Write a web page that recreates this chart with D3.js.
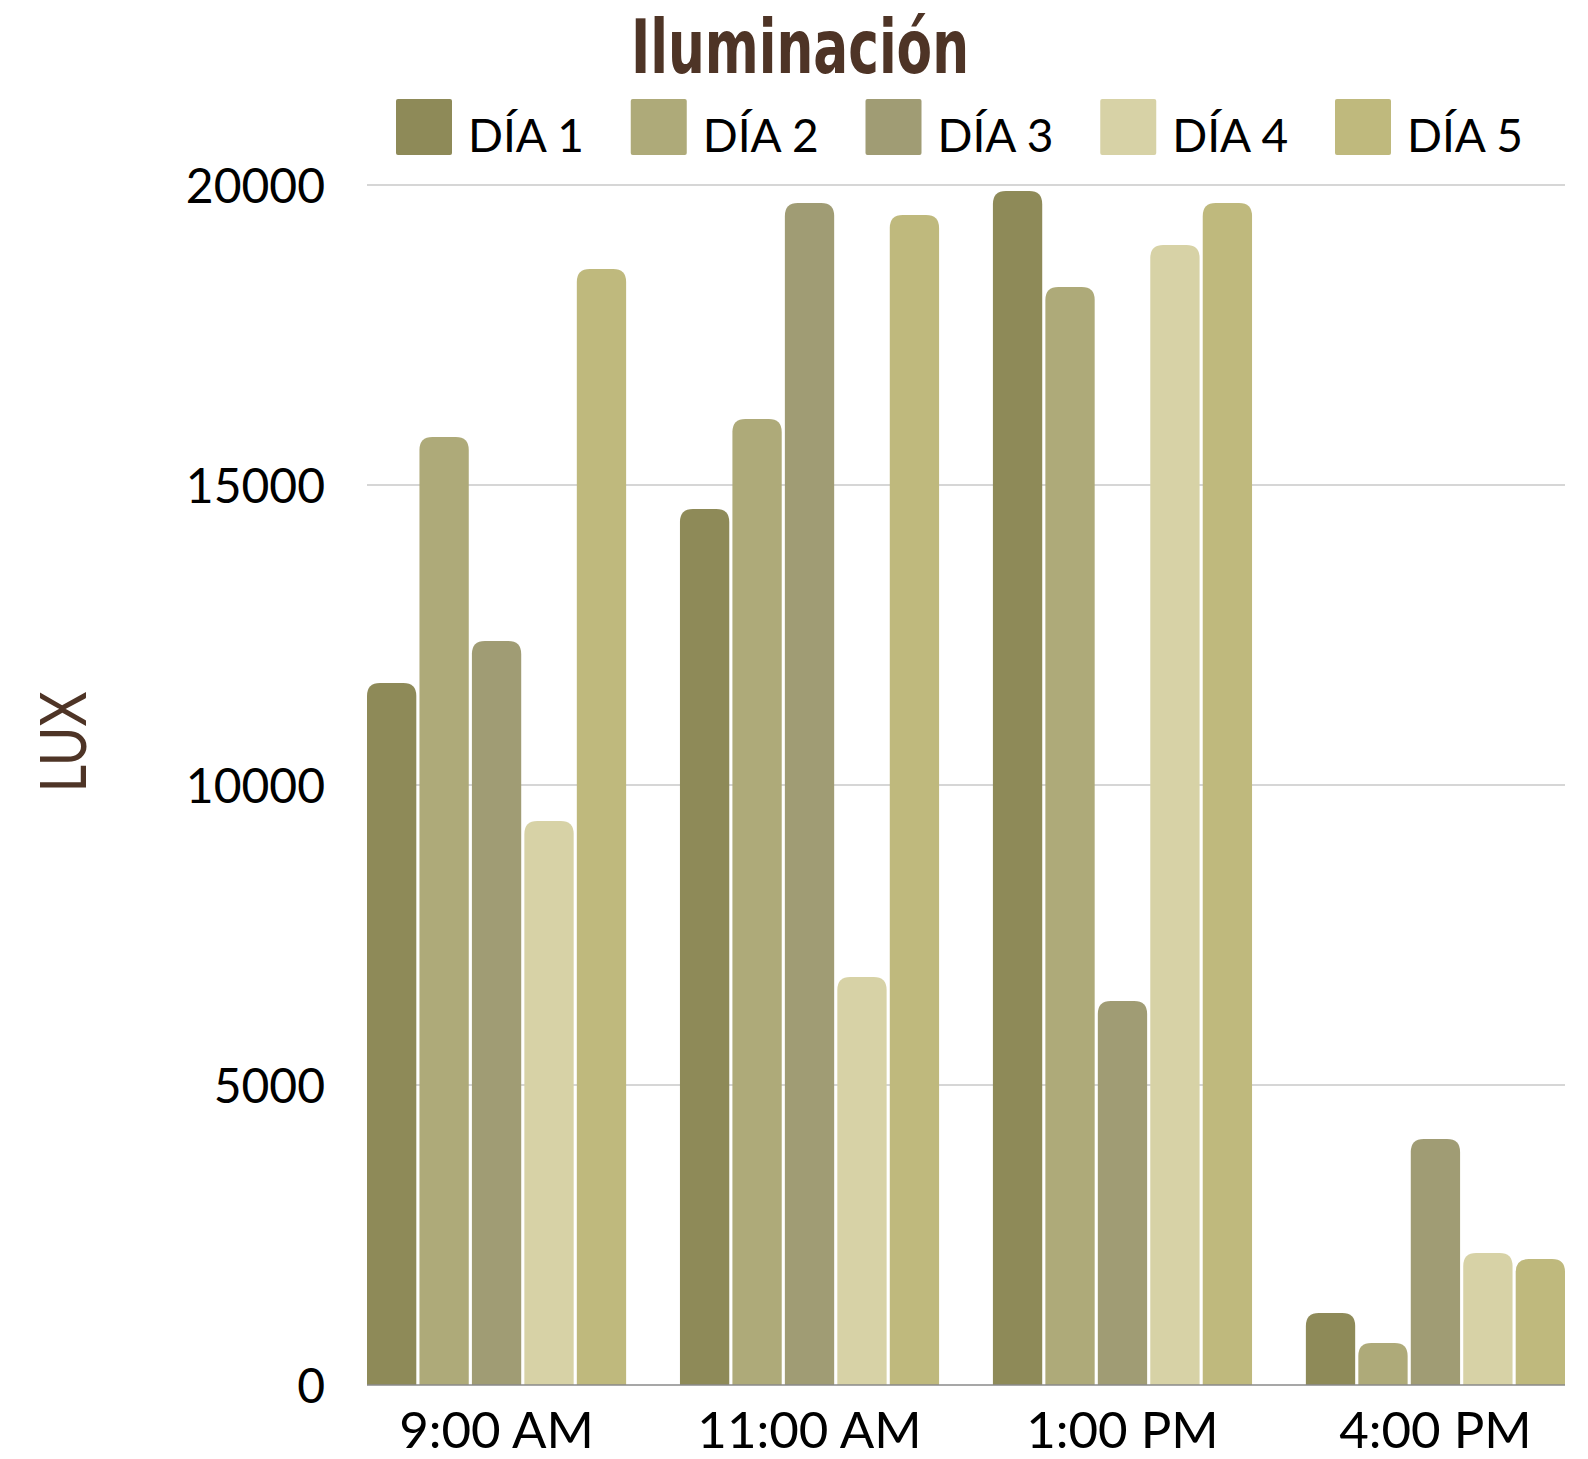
<!DOCTYPE html>
<html>
<head>
<meta charset="utf-8">
<script src="https://cdn.jsdelivr.net/npm/d3@7"></script>
<style>
  html, body { margin: 0; padding: 0; background: #fff; }
  svg { display: block; }
</style>
</head>
<body>
<div id="chart"></div>
<script>
// Datos del gráfico
const categories = ['9:00 AM', '11:00 AM', '1:00 PM', '4:00 PM'];
const seriesNames = ['DÍA 1', 'DÍA 2', 'DÍA 3', 'DÍA 4', 'DÍA 5'];
const dia1 = [11700, 14600, 19900, 1200];
const dia2 = [15800, 16100, 18300, 700];
const dia3 = [12400, 19700, 6400, 4100];
const dia4 = [9400, 6800, 19000, 2200];
const dia5 = [18600, 19500, 19700, 2100];
const seriesColors = ['#8e8a58', '#aeaa79', '#a09c74', '#d7d2a6', '#bfb97d'];
const yTicks = [0, 5000, 10000, 15000, 20000];

const allSeries = [dia1, dia2, dia3, dia4, dia5];

const width = 1588;
const height = 1459;
const margin = { top: 185, right: 23, bottom: 74, left: 367 };

const svg = d3.select('#chart')
    .append('svg')
    .attr('width', width)
    .attr('height', height);

const y = d3.scaleLinear()
    .domain([0, 20000])
    .range([height - margin.bottom, margin.top]);

const x0 = d3.scaleBand()
    .domain(categories)
    .range([margin.left, width - margin.right])
    .paddingInner(0.172)
    .paddingOuter(0);

const x1 = d3.scaleBand()
    .domain(seriesNames)
    .range([0, x0.bandwidth()])
    .paddingInner(0.06)
    .paddingOuter(0);

const fontMain = 'Lato, "Open Sans", sans-serif';

// Líneas de la cuadrícula
svg.append('g')
    .selectAll('line')
    .data(yTicks.filter(d => d > 0))
    .enter()
    .append('line')
    .attr('x1', margin.left)
    .attr('x2', width - margin.right)
    .attr('y1', d => y(d))
    .attr('y2', d => y(d))
    .style('stroke', '#c8c8c8')
    .style('stroke-width', 1.5);

// Etiquetas del eje Y
svg.append('g')
    .selectAll('text')
    .data(yTicks)
    .enter()
    .append('text')
    .attr('x', margin.left - 42)
    .attr('y', d => y(d) + 18)
    .attr('text-anchor', 'end')
    .style('font-family', fontMain)
    .style('font-size', '48px')
    .style('fill', '#000')
    .text(d => d);

// Barras con esquinas superiores redondeadas
function roundedTop(x, yTop, w, h, r) {
    r = Math.min(r, w / 2, h);
    return `M${x},${yTop + h}` +
        `V${yTop + r}` +
        `Q${x},${yTop} ${x + r},${yTop}` +
        `H${x + w - r}` +
        `Q${x + w},${yTop} ${x + w},${yTop + r}` +
        `V${yTop + h}Z`;
}

const barData = [];
categories.forEach((cat, i) => {
    seriesNames.forEach((s, j) => {
        barData.push({ cat: cat, serie: s, value: allSeries[j][i], color: seriesColors[j] });
    });
});

svg.append('g')
    .selectAll('path')
    .data(barData)
    .enter()
    .append('path')
    .attr('d', d => {
        const bx = x0(d.cat) + x1(d.serie);
        const top = y(d.value);
        return roundedTop(bx, top, x1.bandwidth(), y(0) - top, 13);
    })
    .style('fill', d => d.color);

// Línea base
svg.append('line')
    .attr('x1', margin.left)
    .attr('x2', width - margin.right)
    .attr('y1', y(0))
    .attr('y2', y(0))
    .style('stroke', '#8a8a8a')
    .style('stroke-width', 1.5);

// Etiquetas del eje X
svg.append('g')
    .selectAll('text')
    .data(categories)
    .enter()
    .append('text')
    .attr('x', d => x0(d) + x0.bandwidth() / 2)
    .attr('y', y(0) + 63)
    .attr('text-anchor', 'middle')
    .style('font-family', fontMain)
    .style('font-size', '51px')
    .style('fill', '#000')
    .text(d => d);

// Título
svg.append('text')
    .attr('x', 800)
    .attr('y', 73)
    .attr('text-anchor', 'middle')
    .attr('textLength', 338)
    .attr('lengthAdjust', 'spacingAndGlyphs')
    .style('font-family', '"Liberation Sans Narrow", "DejaVu Sans Condensed", sans-serif')
    .style('font-weight', 'bold')
    .style('font-size', '74px')
    .style('fill', '#4e3426')
    .text('Iluminación');

// Título del eje Y
svg.append('text')
    .attr('transform', 'translate(86, 742) rotate(-90)')
    .attr('text-anchor', 'middle')
    .attr('textLength', 101)
    .attr('lengthAdjust', 'spacingAndGlyphs')
    .style('font-family', fontMain)
    .style('font-size', '64px')
    .style('fill', '#4e3426')
    .text('LUX');

// Leyenda
const legendX = d3.scalePoint()
    .domain(seriesNames)
    .range([396, 1335]);

const legend = svg.append('g')
    .selectAll('g')
    .data(seriesNames)
    .enter()
    .append('g')
    .attr('transform', d => `translate(${legendX(d)}, 99)`);

legend.append('rect')
    .attr('width', 56)
    .attr('height', 56)
    .attr('rx', 2)
    .style('fill', (d, i) => seriesColors[i]);

legend.append('text')
    .attr('x', 72)
    .attr('y', 53)
    .style('font-family', fontMain)
    .style('font-size', '46px')
    .style('fill', '#000')
    .text(d => d);
</script>
</body>
</html>
